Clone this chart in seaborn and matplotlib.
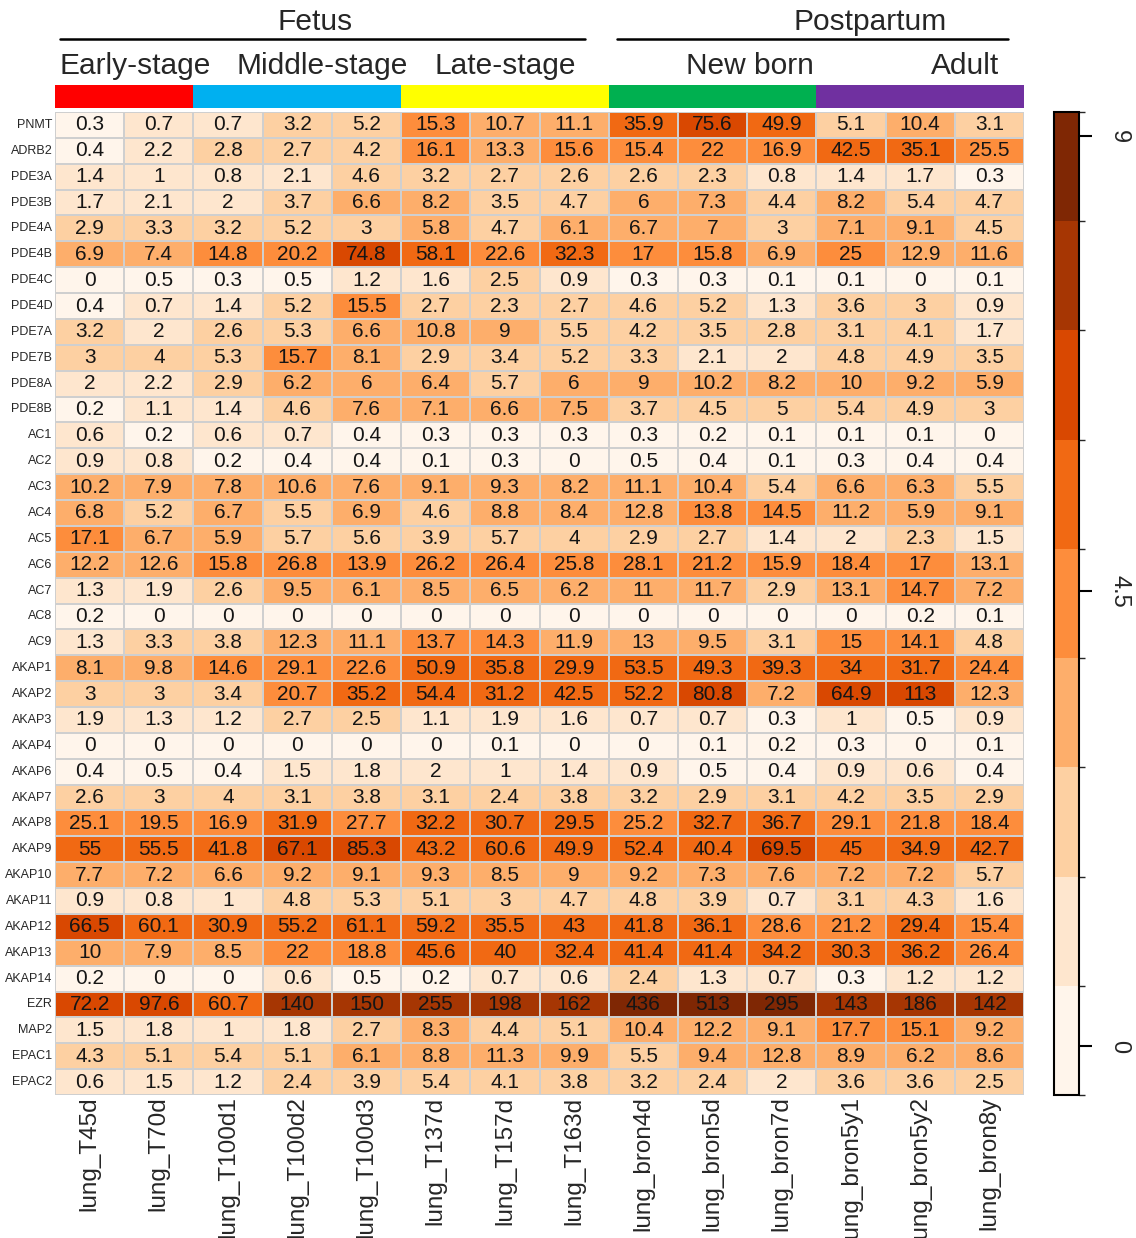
import numpy as np
import pandas as pd
import matplotlib
matplotlib.use("Agg")
import matplotlib.pyplot as plt
import seaborn as sns
from matplotlib.colors import ListedColormap, BoundaryNorm
from matplotlib.lines import Line2D

sns.set_theme(style="white")
plt.rcParams["font.family"] = ["Liberation Sans", "DejaVu Sans"]

samples = ["lung_T45d", "lung_T70d", "lung_T100d1", "lung_T100d2", "lung_T100d3",
           "lung_T137d", "lung_T157d", "lung_T163d", "lung_bron4d", "lung_bron5d",
           "lung_bron7d", "lung_bron5y1", "lung_bron5y2", "lung_bron8y"]

genes = ["PNMT", "ADRB2", "PDE3A", "PDE3B", "PDE4A", "PDE4B", "PDE4C", "PDE4D",
         "PDE7A", "PDE7B", "PDE8A", "PDE8B", "AC1", "AC2", "AC3", "AC4", "AC5",
         "AC6", "AC7", "AC8", "AC9", "AKAP1", "AKAP2", "AKAP3", "AKAP4", "AKAP6",
         "AKAP7", "AKAP8", "AKAP9", "AKAP10", "AKAP11", "AKAP12", "AKAP13",
         "AKAP14", "EZR", "MAP2", "EPAC1", "EPAC2"]

PNMT   = [0.3, 0.7, 0.7, 3.2, 5.2, 15.3, 10.7, 11.1, 35.9, 75.6, 49.9, 5.1, 10.4, 3.1]
ADRB2  = [0.4, 2.2, 2.8, 2.7, 4.2, 16.1, 13.3, 15.6, 15.4, 22, 16.9, 42.5, 35.1, 25.5]
PDE3A  = [1.4, 1, 0.8, 2.1, 4.6, 3.2, 2.7, 2.6, 2.6, 2.3, 0.8, 1.4, 1.7, 0.3]
PDE3B  = [1.7, 2.1, 2, 3.7, 6.6, 8.2, 3.5, 4.7, 6, 7.3, 4.4, 8.2, 5.4, 4.7]
PDE4A  = [2.9, 3.3, 3.2, 5.2, 3, 5.8, 4.7, 6.1, 6.7, 7, 3, 7.1, 9.1, 4.5]
PDE4B  = [6.9, 7.4, 14.8, 20.2, 74.8, 58.1, 22.6, 32.3, 17, 15.8, 6.9, 25, 12.9, 11.6]
PDE4C  = [0, 0.5, 0.3, 0.5, 1.2, 1.6, 2.5, 0.9, 0.3, 0.3, 0.1, 0.1, 0, 0.1]
PDE4D  = [0.4, 0.7, 1.4, 5.2, 15.5, 2.7, 2.3, 2.7, 4.6, 5.2, 1.3, 3.6, 3, 0.9]
PDE7A  = [3.2, 2, 2.6, 5.3, 6.6, 10.8, 9, 5.5, 4.2, 3.5, 2.8, 3.1, 4.1, 1.7]
PDE7B  = [3, 4, 5.3, 15.7, 8.1, 2.9, 3.4, 5.2, 3.3, 2.1, 2, 4.8, 4.9, 3.5]
PDE8A  = [2, 2.2, 2.9, 6.2, 6, 6.4, 5.7, 6, 9, 10.2, 8.2, 10, 9.2, 5.9]
PDE8B  = [0.2, 1.1, 1.4, 4.6, 7.6, 7.1, 6.6, 7.5, 3.7, 4.5, 5, 5.4, 4.9, 3]
AC1    = [0.6, 0.2, 0.6, 0.7, 0.4, 0.3, 0.3, 0.3, 0.3, 0.2, 0.1, 0.1, 0.1, 0]
AC2    = [0.9, 0.8, 0.2, 0.4, 0.4, 0.1, 0.3, 0, 0.5, 0.4, 0.1, 0.3, 0.4, 0.4]
AC3    = [10.2, 7.9, 7.8, 10.6, 7.6, 9.1, 9.3, 8.2, 11.1, 10.4, 5.4, 6.6, 6.3, 5.5]
AC4    = [6.8, 5.2, 6.7, 5.5, 6.9, 4.6, 8.8, 8.4, 12.8, 13.8, 14.5, 11.2, 5.9, 9.1]
AC5    = [17.1, 6.7, 5.9, 5.7, 5.6, 3.9, 5.7, 4, 2.9, 2.7, 1.4, 2, 2.3, 1.5]
AC6    = [12.2, 12.6, 15.8, 26.8, 13.9, 26.2, 26.4, 25.8, 28.1, 21.2, 15.9, 18.4, 17, 13.1]
AC7    = [1.3, 1.9, 2.6, 9.5, 6.1, 8.5, 6.5, 6.2, 11, 11.7, 2.9, 13.1, 14.7, 7.2]
AC8    = [0.2, 0, 0, 0, 0, 0, 0, 0, 0, 0, 0, 0, 0.2, 0.1]
AC9    = [1.3, 3.3, 3.8, 12.3, 11.1, 13.7, 14.3, 11.9, 13, 9.5, 3.1, 15, 14.1, 4.8]
AKAP1  = [8.1, 9.8, 14.6, 29.1, 22.6, 50.9, 35.8, 29.9, 53.5, 49.3, 39.3, 34, 31.7, 24.4]
AKAP2  = [3, 3, 3.4, 20.7, 35.2, 54.4, 31.2, 42.5, 52.2, 80.8, 7.2, 64.9, 113, 12.3]
AKAP3  = [1.9, 1.3, 1.2, 2.7, 2.5, 1.1, 1.9, 1.6, 0.7, 0.7, 0.3, 1, 0.5, 0.9]
AKAP4  = [0, 0, 0, 0, 0, 0, 0.1, 0, 0, 0.1, 0.2, 0.3, 0, 0.1]
AKAP6  = [0.4, 0.5, 0.4, 1.5, 1.8, 2, 1, 1.4, 0.9, 0.5, 0.4, 0.9, 0.6, 0.4]
AKAP7  = [2.6, 3, 4, 3.1, 3.8, 3.1, 2.4, 3.8, 3.2, 2.9, 3.1, 4.2, 3.5, 2.9]
AKAP8  = [25.1, 19.5, 16.9, 31.9, 27.7, 32.2, 30.7, 29.5, 25.2, 32.7, 36.7, 29.1, 21.8, 18.4]
AKAP9  = [55, 55.5, 41.8, 67.1, 85.3, 43.2, 60.6, 49.9, 52.4, 40.4, 69.5, 45, 34.9, 42.7]
AKAP10 = [7.7, 7.2, 6.6, 9.2, 9.1, 9.3, 8.5, 9, 9.2, 7.3, 7.6, 7.2, 7.2, 5.7]
AKAP11 = [0.9, 0.8, 1, 4.8, 5.3, 5.1, 3, 4.7, 4.8, 3.9, 0.7, 3.1, 4.3, 1.6]
AKAP12 = [66.5, 60.1, 30.9, 55.2, 61.1, 59.2, 35.5, 43, 41.8, 36.1, 28.6, 21.2, 29.4, 15.4]
AKAP13 = [10, 7.9, 8.5, 22, 18.8, 45.6, 40, 32.4, 41.4, 41.4, 34.2, 30.3, 36.2, 26.4]
AKAP14 = [0.2, 0, 0, 0.6, 0.5, 0.2, 0.7, 0.6, 2.4, 1.3, 0.7, 0.3, 1.2, 1.2]
EZR    = [72.2, 97.6, 60.7, 140, 150, 255, 198, 162, 436, 513, 295, 143, 186, 142]
MAP2   = [1.5, 1.8, 1, 1.8, 2.7, 8.3, 4.4, 5.1, 10.4, 12.2, 9.1, 17.7, 15.1, 9.2]
EPAC1  = [4.3, 5.1, 5.4, 5.1, 6.1, 8.8, 11.3, 9.9, 5.5, 9.4, 12.8, 8.9, 6.2, 8.6]
EPAC2  = [0.6, 1.5, 1.2, 2.4, 3.9, 5.4, 4.1, 3.8, 3.2, 2.4, 2, 3.6, 3.6, 2.5]

rows = [PNMT, ADRB2, PDE3A, PDE3B, PDE4A, PDE4B, PDE4C, PDE4D, PDE7A, PDE7B,
        PDE8A, PDE8B, AC1, AC2, AC3, AC4, AC5, AC6, AC7, AC8, AC9, AKAP1, AKAP2,
        AKAP3, AKAP4, AKAP6, AKAP7, AKAP8, AKAP9, AKAP10, AKAP11, AKAP12, AKAP13,
        AKAP14, EZR, MAP2, EPAC1, EPAC2]

# sample groups along the top annotation bar
stage_names = ["Early-stage", "Middle-stage", "Late-stage", "New born", "Adult"]
stage_of_sample = [0, 0, 1, 1, 1, 2, 2, 2, 3, 3, 3, 4, 4, 4]
stage_colors = ["#FF0000", "#00B0F0", "#FFFF00", "#00B050", "#7030A0"]

expr = pd.DataFrame(rows, index=genes, columns=samples)
log_expr = np.log2(expr + 1)
labels = expr.map(lambda v: f"{v:g}")

oranges = ["#FFF5EB", "#FEE6CE", "#FDD0A2", "#FDAE6B", "#FD8D3C",
           "#F16913", "#D94801", "#A63603", "#7F2704"]
cmap = ListedColormap(oranges)
bounds = -0.48 + 1.08 * np.arange(10)
norm = BoundaryNorm(bounds, cmap.N)

W, H = 1136, 1238
fig = plt.figure(figsize=(W / 100, H / 100), dpi=100)

def fx(px):
    return px / W

def fy(py):
    return 1 - py / H

left, right = 55, 1024
top, bottom = 112, 1095
ax = fig.add_axes([fx(left), fy(bottom), fx(right - left), (bottom - top) / H])
cax = fig.add_axes([fx(1054), fy(bottom), fx(25), (bottom - top) / H])
bax = fig.add_axes([fx(left), fy(108), fx(right - left), 23 / H])

sns.heatmap(log_expr, ax=ax, cmap=cmap, norm=norm, annot=labels, fmt="",
            annot_kws={"fontsize": 15, "color": "#151515"},
            linewidths=1.2, linecolor="#CFCFCF", cbar_ax=cax,
            xticklabels=samples, yticklabels=genes)
ax.tick_params(axis="y", length=0, pad=2)
ax.tick_params(axis="x", length=0, pad=1)
ax.set_yticklabels(genes, fontsize=9, rotation=0)
ax.set_xticklabels(samples, fontsize=17.5, rotation=90, va="top")
ax.set_xlabel("")
ax.set_ylabel("")

# colour bar
cbar = ax.collections[0].colorbar
cbar.set_ticks([0, 4.5, 9])
cbar.set_ticklabels(["0", "4.5", "9"])
cax.tick_params(axis="y", length=9, width=1.5, color="black", pad=12,
                labelsize=17, right=True)
for lab in cax.get_yticklabels():
    lab.set_rotation(270)
    lab.set_va("center")
cbar.outline.set_edgecolor("black")
cbar.outline.set_linewidth(1.5)

# stage annotation bar
sns.heatmap(np.array([stage_of_sample]), ax=bax,
            cmap=ListedColormap(stage_colors), vmin=-0.5, vmax=4.5,
            cbar=False, xticklabels=False, yticklabels=False)
bax.set_xlabel("")
bax.set_ylabel("")

# stage names
stage_x = [135, 322, 505, 750, 965]
for name, x in zip(stage_names, stage_x):
    fig.text(fx(x), fy(66), name, fontsize=21.5, ha="center", va="center")

# period headers with underline
for name, x, x0, x1 in [("Fetus", 315, 60, 585), ("Postpartum", 870, 617, 1008)]:
    fig.text(fx(x), fy(22), name, fontsize=21.5, ha="center", va="center")
    fig.add_artist(Line2D([fx(x0), fx(x1)], [fy(39), fy(39)],
                          color="black", linewidth=1.8))

fig.savefig("out.png", dpi=100)
